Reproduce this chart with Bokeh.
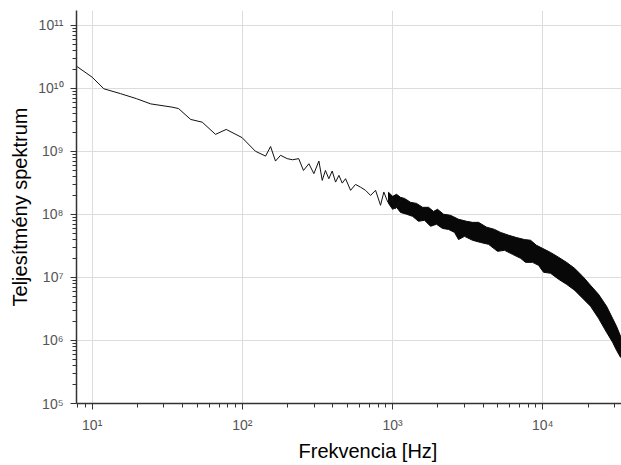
from bokeh.plotting import figure
from bokeh.models import Range1d, Title, FixedTicker
from bokeh.embed import file_html
from bokeh.resources import INLINE

# ---- data (frequency in Hz, power spectrum) ----
freq_line = [7.86, 10, 11.95, 15.4, 19.7, 24.5, 34, 37.6, 45.2, 54, 66.2, 78, 99.5,
             122, 142.6, 154, 166, 179.5, 198.6, 215.6, 237, 255, 277, 299, 323,
             340, 357, 376, 396, 417, 439, 462, 486, 525, 566, 611, 660, 713, 770,
             831, 874, 929, 994, 1045, 1129]
psd_line = [2.26e10, 1.51e10, 9.9e9, 8.3e9, 6.9e9, 5.7e9, 5.06e9, 4.8e9, 3.23e9,
            2.92e9, 1.87e9, 2.24e9, 1.66e9, 1.01e9, 8.45e8, 1.2e9, 7.05e8, 8.7e8,
            7.7e8, 7.4e8, 7.7e8, 5.0e8, 6.4e8, 4.45e8, 7.05e8, 3.48e8, 5.0e8, 3.7e8,
            4.9e8, 3.27e8, 4.18e8, 3.15e8, 3.7e8, 2.42e8, 3.0e8, 2.72e8, 2.42e8,
            2.01e8, 2.42e8, 1.4e8, 2.27e8, 1.57e8, 1.78e8, 1.24e8, 1.67e8]

# dense noisy part: upper and lower envelope of the black band
band_freq_upper = [939, 1000, 1062, 1129, 1200, 1316, 1443, 1582, 1734, 1872, 1991,
                   2183, 2429, 2747, 3105, 3404, 3732, 4219, 4770, 5229, 5910, 6682,
                   7553, 8284, 9081, 9954, 11250, 12720, 14380, 16260, 18380, 20780,
                   23490, 26560, 29120, 30950, 32920]
band_psd_upper = [2.25e8, 1.94e8, 2.09e8, 1.87e8, 1.80e8, 1.56e8, 1.50e8, 1.30e8,
                  1.30e8, 1.12e8, 1.21e8, 1.01e8, 9.7e7, 8.4e7, 7.8e7, 7.5e7, 7.5e7,
                  6.3e7, 5.8e7, 5.2e7, 4.7e7, 4.3e7, 4.0e7, 3.9e7, 3.24e7, 2.9e7,
                  2.5e7, 2.1e7, 1.74e7, 1.40e7, 1.05e7, 7.5e6, 5.4e6, 3.5e6, 2.25e6,
                  1.68e6, 1.17e6]
band_freq_lower = [939, 1000, 1062, 1129, 1237, 1357, 1487, 1631, 1788, 1960, 2149,
                   2357, 2583, 2747, 3011, 3404, 3847, 4350, 4995, 5559, 6285, 7105,
                   7671, 8540, 9363, 10110, 11250, 12720, 14380, 16260, 18380, 20780,
                   23490, 26560, 29120, 30950, 32920]
band_psd_lower = [1.50e8, 1.21e8, 1.30e8, 1.08e8, 1.01e8, 9.35e7, 7.8e7, 8.1e7, 6.5e7,
                  7.0e7, 6.0e7, 5.8e7, 5.2e7, 4.0e7, 4.5e7, 3.9e7, 3.6e7, 3.36e7,
                  2.6e7, 2.7e7, 2.33e7, 2.02e7, 1.74e7, 1.74e7, 1.56e7, 1.21e7,
                  1.17e7, 9.4e6, 7.8e6, 6.3e6, 4.7e6, 3.5e6, 2.25e6, 1.35e6, 9.4e5,
                  7.0e5, 5.4e5]

x_ticks = [10, 100, 1000, 10000]
x_tick_labels = ["10\u00b9", "10\u00b2", "10\u00b3", "10\u2074"]
y_ticks = [1e5, 1e6, 1e7, 1e8, 1e9, 1e10, 1e11]
y_tick_labels = ["10\u2075", "10\u2076", "10\u2077", "10\u2078", "10\u2079",
                 "10\u00b9\u2070", "10\u00b9\u00b9"]

x_label = "Frekvencia [Hz]"
y_label = "Teljesítmény spektrum"

FONT = "Liberation Sans"

p = figure(width=621, height=465, x_axis_type="log", y_axis_type="log",
           x_range=Range1d(7.86, 33400), y_range=Range1d(1e5, 1.73e11),
           output_backend="svg", toolbar_location=None,
           min_border_left=76, min_border_right=0, min_border_top=10,
           min_border_bottom=62)

p.outline_line_color = None
p.background_fill_color = "white"
p.border_fill_color = "white"

x_minor = [m * 10 ** k for k in range(0, 5) for m in range(2, 10)]
y_minor = [m * 10 ** k for k in range(5, 12) for m in range(2, 10)]
p.xaxis.ticker = FixedTicker(ticks=x_ticks, minor_ticks=x_minor)
p.yaxis.ticker = FixedTicker(ticks=y_ticks, minor_ticks=y_minor)
p.xaxis.major_label_overrides = dict(zip(x_ticks, x_tick_labels))
p.yaxis.major_label_overrides = {float(t): l for t, l in zip(y_ticks, y_tick_labels)}

for ax in (p.xaxis, p.yaxis):
    ax.axis_line_color = "#333333"
    ax.axis_line_width = 1.5
    ax.major_tick_line_color = "#333333"
    ax.minor_tick_line_color = "#333333"
    ax.major_tick_out = 6
    ax.major_tick_in = 0
    ax.minor_tick_out = 4
    ax.minor_tick_in = 0
    ax.major_label_text_font = FONT
    ax.major_label_text_font_size = "14px"
    ax.major_label_text_color = "#555555"
    ax.major_label_standoff = 7

p.yaxis.axis_label = y_label
p.yaxis.axis_label_text_font = FONT
p.yaxis.axis_label_text_font_size = "20px"
p.yaxis.axis_label_text_font_style = "normal"
p.yaxis.axis_label_text_color = "black"
p.yaxis.axis_label_standoff = 4

p.add_layout(Title(text=x_label, align="left", offset=222, text_font=FONT,
                   text_font_size="20px", text_font_style="normal",
                   text_color="black", standoff=4), "below")

p.xgrid.grid_line_color = "#dcdcdc"
p.ygrid.grid_line_color = "#dcdcdc"
p.xgrid.grid_line_width = 1
p.ygrid.grid_line_width = 1

band_x = band_freq_upper + band_freq_lower[::-1]
band_y = band_psd_upper + band_psd_lower[::-1]
p.patch(band_x, band_y, fill_color="#080808", line_color="#080808", line_width=1)
p.line(freq_line, psd_line, line_color="#111111", line_width=1)

open("out.html", "w").write(file_html(p, INLINE))
